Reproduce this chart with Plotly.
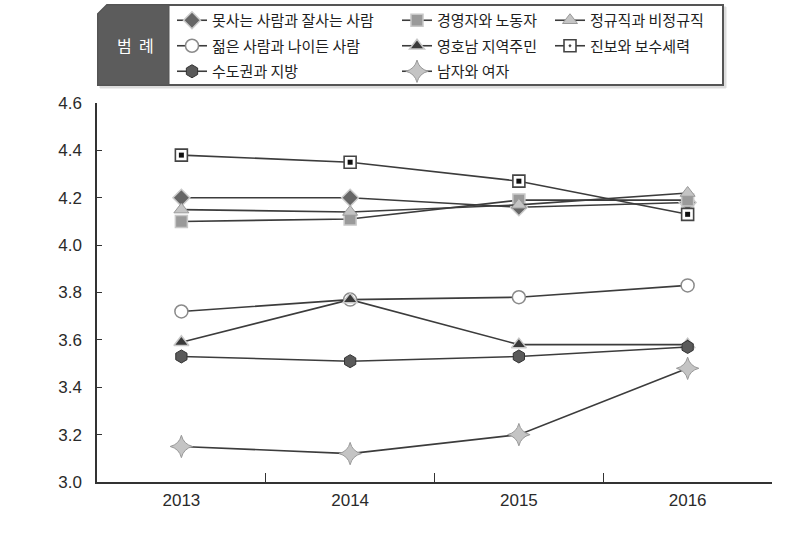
import plotly.graph_objects as go

years = ["2013", "2014", "2015", "2016"]

names = [
    "못사는 사람과 잘사는 사람",
    "경영자와 노동자",
    "정규직과 비정규직",
    "젊은 사람과 나이든 사람",
    "영호남 지역주민",
    "진보와 보수세력",
    "수도권과 지방",
    "남자와 여자",
]

poor_rich = [4.20, 4.20, 4.16, 4.18]
mgmt_labor = [4.10, 4.11, 4.19, 4.19]
regular_irregular = [4.15, 4.14, 4.17, 4.22]
young_old = [3.72, 3.77, 3.78, 3.83]
yeongnam_honam = [3.59, 3.77, 3.58, 3.58]
progressive_conservative = [4.38, 4.35, 4.27, 4.13]
capital_local = [3.53, 3.51, 3.53, 3.57]
men_women = [3.15, 3.12, 3.20, 3.48]

series = [poor_rich, mgmt_labor, regular_irregular, young_old,
          yeongnam_honam, progressive_conservative, capital_local, men_women]

styles = [
    dict(symbol="diamond", size=13, color="#666666", lc="#cccccc", lw=1.5, legend="legend"),
    dict(symbol="square", size=12, color="#9a9a9a", lc="#c8c8c8", lw=1.5, legend="legend2"),
    dict(symbol="triangle-up", size=13, color="#c4c4c4", lc="#999999", lw=1, legend="legend3"),
    dict(symbol="circle", size=13, color="#ffffff", lc="#8a8a8a", lw=1.5, legend="legend"),
    dict(symbol="triangle-up", size=13, color="#3a3a3a", lc="#c8c8c8", lw=1.5, legend="legend2"),
    dict(symbol="square-dot", size=12, color="#ffffff", lc="#444444", lw=1.6, legend="legend3"),
    dict(symbol="hexagon", size=13, color="#5a5a5a", lc="#333333", lw=1, legend="legend"),
    dict(symbol="star-diamond", size=16, color="#c4c4c4", lc="#999999", lw=1, legend="legend2"),
]

W, H = 798, 538
ML, MR, MT, MB = 97, 26, 103, 56
PW, PH = W - ML - MR, H - MT - MB


def px(p):
    return (p - ML) / PW


def py(p):
    return (H - MB - p) / PH


fig = go.Figure()
for i, (name, vals, st) in enumerate(zip(names, series, styles)):
    fig.add_trace(go.Scatter(
        x=years, y=vals, name=name, mode="lines+markers",
        line=dict(color="#3c3c3c", width=1.6),
        marker=dict(symbol=st["symbol"], size=st["size"], color=st["color"],
                    line=dict(color=st["lc"], width=st["lw"])),
        legend=st["legend"], legendgroup=f"g{i}",
    ))
    if st["symbol"] == "square-dot":
        fig.add_trace(go.Scatter(
            x=years, y=vals, mode="markers", showlegend=False, hoverinfo="skip",
            marker=dict(symbol="square", size=5, color="#111111", line=dict(width=0)),
            legend=st["legend"], legendgroup=f"g{i}",
        ))

kfont = "Noto Sans CJK KR"
leg_common = dict(
    xref="container", yref="container", xanchor="left", yanchor="top",
    bgcolor="rgba(0,0,0,0)", borderwidth=0, tracegroupgap=3,
    font=dict(family=kfont, size=15, color="#1e1e1e"),
    orientation="v", itemwidth=30,
)
fig.update_layout(
    legend=dict(x=172 / W, y=1 - 4 / H, **leg_common),
    legend2=dict(x=397 / W, y=1 - 4 / H, **leg_common),
    legend3=dict(x=550 / W, y=1 - 4 / H, **leg_common),
)

# legend frame
def path(points):
    s = "M " + " L ".join(f"{px(a):.5f},{py(b):.5f}" for a, b in points) + " Z"
    return s

shadow = [(100, 16), (109, 7), (726, 7), (726, 88), (100, 88)]
box = [(98, 14), (107, 5), (723, 5), (723, 85), (98, 85)]
panel = [(98, 14), (107, 5), (169, 5), (169, 85), (98, 85)]
fig.add_shape(type="path", path=path(shadow), xref="paper", yref="paper",
              fillcolor="#dddddd", line=dict(color="#dddddd", width=1), layer="below")
fig.add_shape(type="path", path=path(box), xref="paper", yref="paper",
              fillcolor="#ffffff", line=dict(color="#555555", width=2), layer="below")
fig.add_shape(type="path", path=path(panel), xref="paper", yref="paper",
              fillcolor="#5c5c5c", line=dict(color="#555555", width=1), layer="below")
fig.add_annotation(x=px(135), y=py(45), xref="paper", yref="paper", text="범&nbsp;&nbsp;례",
                   xanchor="center", yanchor="middle",
                   showarrow=False, font=dict(family=kfont, size=16, color="#ffffff"))

fig.update_layout(
    width=W, height=H,
    margin=dict(l=ML, r=MR, t=MT, b=MB, autoexpand=False),
    paper_bgcolor="#ffffff", plot_bgcolor="#ffffff",
    font=dict(family="Liberation Sans, Arial, sans-serif", size=17, color="#2a2a2a"),
    xaxis=dict(
        type="category", categoryorder="array", categoryarray=years,
        range=[-0.5, 3.5], tickson="boundaries", ticks="inside", ticklen=9,
        tickcolor="#333333", tickwidth=1.3, showline=True, linecolor="#333333", linewidth=1.5,
        showgrid=False, zeroline=False, tickfont=dict(size=17, color="#2a2a2a"),
        automargin=False, ticklabelstandoff=2,
    ),
    yaxis=dict(
        range=[3.0, 4.6], dtick=0.2, tick0=3.0, tickformat=".1f",
        ticks="inside", ticklen=5, tickcolor="#333333", tickwidth=1.3,
        showline=True, linecolor="#333333", linewidth=1.5,
        showgrid=False, zeroline=False, tickfont=dict(size=17, color="#2a2a2a"),
        automargin=False, ticklabelstandoff=10,
    ),
)

fig.write_html("out.html")
